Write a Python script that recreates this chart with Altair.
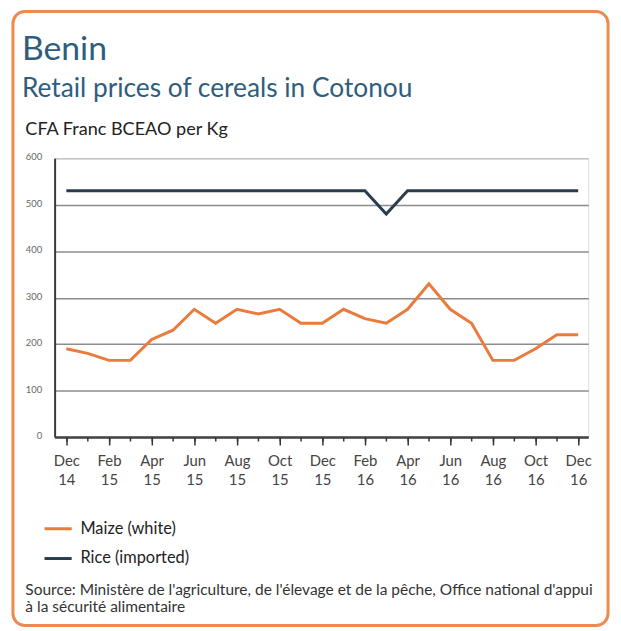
import json
import altair as alt
import pandas as pd

# ---- data -------------------------------------------------------------
months = ["Dec 14", "Jan 15", "Feb 15", "Mar 15", "Apr 15", "May 15", "Jun 15",
          "Jul 15", "Aug 15", "Sep 15", "Oct 15", "Nov 15", "Dec 15", "Jan 16",
          "Feb 16", "Mar 16", "Apr 16", "May 16", "Jun 16", "Jul 16", "Aug 16",
          "Sep 16", "Oct 16", "Nov 16", "Dec 16"]
maize = [190, 180, 165, 165, 210, 230, 275, 245, 275, 265, 275, 245, 245,
         275, 255, 245, 275, 330, 275, 245, 165, 165, 190, 220, 220]
rice = [530, 530, 530, 530, 530, 530, 530, 530, 530, 530, 530, 530, 530,
        530, 530, 480, 530, 530, 530, 530, 530, 530, 530, 530, 530]
series = ["Maize (white)", "Rice (imported)"]
colors = ["#e97b3c", "#2a3d4f"]
y_ticks = [0, 100, 200, 300, 400, 500, 600]
major_ticks = list(range(0, len(months), 2))
minor_ticks = list(range(0, len(months)))
source_lines = ["Source: Ministère de l'agriculture, de l'élevage et de la pêche, Office national d'appui",
                "à la sécurité alimentaire"]

maize_df = pd.DataFrame({"idx": range(len(months)), "month": months,
                         "price": maize, "series": series[0]})
rice_df = pd.DataFrame({"idx": range(len(months)), "month": months,
                        "price": rice, "series": series[1]})

FONT = "Lato"
label_expr = ("split(" + json.dumps(months) + "[datum.value], ' ')")

x_scale = alt.Scale(domain=[-0.55, 24.47], nice=False, zero=False)
y_scale = alt.Scale(domain=[0, 600], nice=False)

y_axis = alt.Axis(
    values=y_ticks, tickSize=0, labelFontSize=9.5, labelColor="#666666",
    labelPadding=13, labelOffset=-1.5,
    domainColor="#3a3a3a", domainWidth=2,
    gridColor={"condition": {"test": "datum.value == 600", "value": "#c4c4c4"},
               "value": "#8c8c8c"},
    gridWidth=1.5,
    title="CFA Franc BCEAO per Kg", titleAngle=0, titleAlign="left",
    titleBaseline="alphabetic", titleX=-30, titleY=-24, titleFontSize=18.2,
    titleFontWeight="normal", titleColor="#222222", titleFont=FONT,
)

x_axis_major = alt.Axis(
    orient="bottom", values=major_ticks, labelExpr=label_expr,
    tickSize=8, tickWidth=1.5, tickColor="#333333",
    labelFontSize=15, labelColor="#444444", labelLineHeight=19,
    labelBaseline="top", labelPadding=9, labelFont=FONT,
    domainColor="#444444", domainWidth=2.5, grid=False, title=None,
)
x_axis_minor = alt.Axis(
    orient="bottom", values=minor_ticks, labels=False,
    tickSize=4, tickWidth=1.5, tickColor="#333333",
    domain=False, grid=False,
    title=source_lines, titleAlign="left", titleBaseline="alphabetic",
    titleX=-30, titleY=159, titleFontSize=15.6, titleFontWeight="normal",
    titleColor="#333333", titleFont=FONT, titleLineHeight=17,
)

color = alt.Color(
    "series:N",
    scale=alt.Scale(domain=series, range=colors),
    legend=alt.Legend(
        title=None, orient="none", legendX=-12, legendY=358,
        symbolType="stroke", symbolSize=750, symbolStrokeWidth=3,
        labelFontSize=16.5, labelColor="#222222", labelFont=FONT,
        labelOffset=7, rowPadding=6, padding=0,
    ),
)

maize_line = alt.Chart(maize_df).mark_line(strokeWidth=3).encode(
    x=alt.X("idx:Q", scale=x_scale, axis=x_axis_major),
    y=alt.Y("price:Q", scale=y_scale, axis=y_axis),
    color=color,
)
rice_line = alt.Chart(rice_df).mark_line(strokeWidth=3).encode(
    x=alt.X("idx:Q", scale=x_scale, axis=x_axis_minor),
    y=alt.Y("price:Q", scale=y_scale, axis=y_axis),
    color=color,
)

frame = alt.Chart(pd.DataFrame({"k": [0]})).mark_rect(
    filled=False, stroke="#ee8a50", strokeWidth=3, cornerRadius=12,
).encode(
    x=alt.value(-42), x2=alt.value(558), y=alt.value(-148), y2=alt.value(471),
)

chart = alt.layer(frame, maize_line, rice_line).resolve_axis(
    x="independent"
).properties(
    width=538, height=281,
    autosize=alt.AutoSizeParams(type="none"),
    padding={"left": 47, "top": 149, "right": 25, "bottom": 193},
    title=alt.TitleParams(
        text="Benin", subtitle="Retail prices of cereals in Cotonou",
        anchor="start", frame="group", dx=-33, offset=20, dy=113,
        font=FONT, fontSize=34, fontWeight="normal", color="#2f5d7d",
        subtitleFont=FONT, subtitleFontSize=26.5, subtitleFontWeight="normal",
        subtitleColor="#2f5d7d", subtitlePadding=9,
    ),
    background="white",
).configure_view(strokeWidth=0).configure(font=FONT)

chart.save("out.html", embed_options={"renderer": "svg", "actions": False})
